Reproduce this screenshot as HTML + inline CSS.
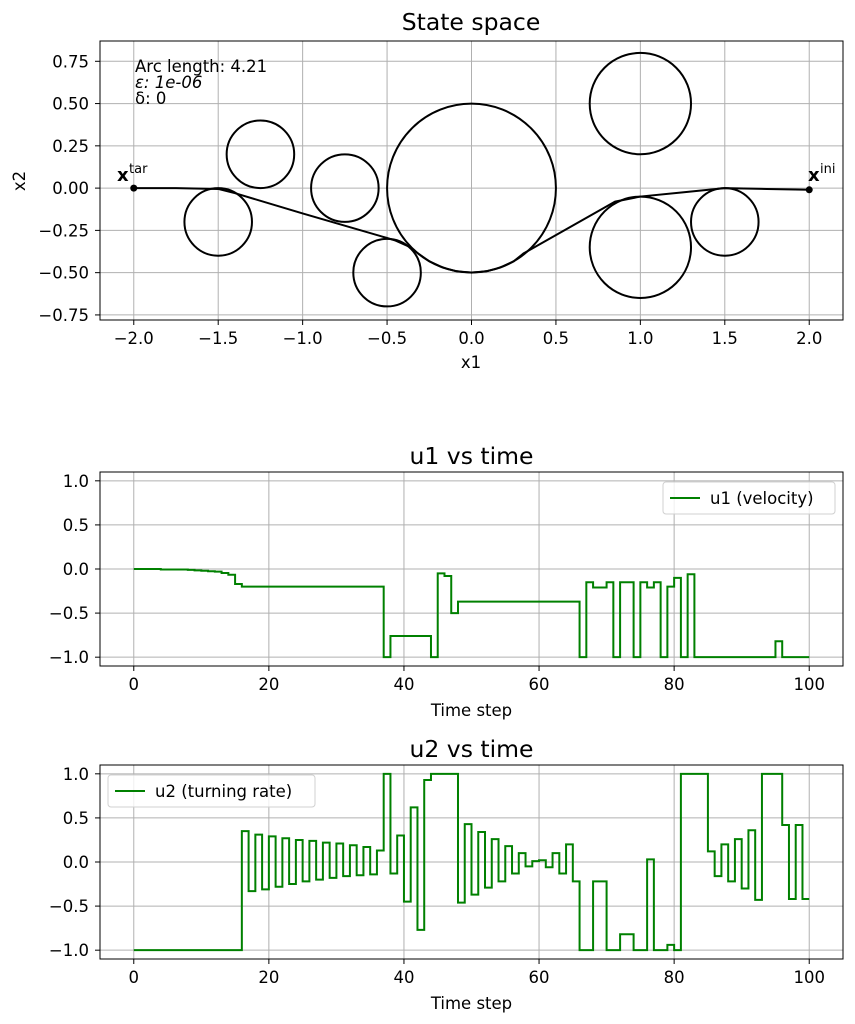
<!DOCTYPE html>
<html><head><meta charset="utf-8"><style>
html,body{margin:0;padding:0;background:#fff;}
svg{display:block;font-family:"DejaVu Sans","Liberation Sans",sans-serif;}
</style></head><body>
<svg id="fig" width="855" height="1024" viewBox="0 0 855 1024" xmlns="http://www.w3.org/2000/svg"></svg>
<script>
// ---- Data ----
const obsX = [-1.5, -1.25, -0.75, -0.5, 0, 1, 1, 1.5];
const obsY = [-0.2, 0.2, 0, -0.5, 0, 0.5, -0.35, -0.2];
const obsR = [0.2, 0.2, 0.2, 0.2, 0.5, 0.3, 0.3, 0.2];
const pathX = [2, 1.75, 1.5, 1.25, 1.0, 0.85, 0.31, 0.25, 0.17, 0.09, 0, -0.09, -0.17, -0.25, -0.32, -0.36, -0.45, -0.5, -1.0, -1.4, -1.5, -1.75, -2];
const pathY = [-0.01, -0.005, 0, -0.025, -0.05, -0.08, -0.385, -0.433, -0.47, -0.492, -0.5, -0.492, -0.47, -0.433, -0.384, -0.35, -0.31, -0.295, -0.15, -0.03, -0.005, 0, 0];
const timeSteps = Array.from({length: 101}, (_, i) => i);
const u1 = [0,0,0,0,-0.005,-0.005,-0.005,-0.005,-0.01,-0.015,-0.02,-0.025,-0.03,-0.045,-0.065,-0.17,
-0.2,-0.2,-0.2,-0.2,-0.2,-0.2,-0.2,-0.2,-0.2,-0.2,-0.2,-0.2,-0.2,-0.2,-0.2,-0.2,-0.2,-0.2,-0.2,-0.2,-0.2,
-1,-0.76,-0.76,-0.76,-0.76,-0.76,-0.76,-1,-0.05,-0.08,-0.5,
-0.37,-0.37,-0.37,-0.37,-0.37,-0.37,-0.37,-0.37,-0.37,-0.37,-0.37,-0.37,-0.37,-0.37,-0.37,-0.37,-0.37,-0.37,
-1,-0.15,-0.21,-0.21,-0.15,-1,-0.15,-0.15,-1,-0.15,-0.21,-0.15,-1,-0.2,-0.1,-1,-0.06,
-1,-1,-1,-1,-1,-1,-1,-1,-1,-1,-1,-1,-0.82,-1,-1,-1,-1,-1];
const u2 = [-1,-1,-1,-1,-1,-1,-1,-1,-1,-1,-1,-1,-1,-1,-1,-1,
0.35,-0.33,0.31,-0.31,0.29,-0.28,0.27,-0.25,0.25,-0.22,0.24,-0.2,0.22,-0.18,0.21,-0.16,0.19,-0.15,0.17,-0.14,0.13,
1.0,-0.13,0.3,-0.45,0.62,-0.77,0.93,1,1,1,1,
-0.46,0.43,-0.37,0.34,-0.29,0.26,-0.22,0.18,-0.13,0.1,-0.05,0.01,0.02,-0.06,0.1,-0.13,0.2,-0.22,
-1,-1,-0.22,-0.22,-1,-1,-0.82,-0.82,-1,-1,0.03,-1,-1,-0.94,-1,
1,1,1,1,0.12,-0.16,0.2,-0.22,0.26,-0.3,0.36,-0.43,1,1,1,0.42,-0.42,0.42,-0.42,-0.42];
const xTicksState = [-2.0,-1.5,-1.0,-0.5,0.0,0.5,1.0,1.5,2.0];
const yTicksState = [0.75,0.5,0.25,0,-0.25,-0.5,-0.75];
const xTicksTime = [0,20,40,60,80,100];
const yTicksU = [1.0,0.5,0.0,-0.5,-1.0];

const NS = "http://www.w3.org/2000/svg";
const svg = document.getElementById('fig');
const TICK_FS = 16.5;
function mk(tag, attrs, parent, text){
  const e = document.createElementNS(NS, tag);
  for (const k in attrs) e.setAttribute(k, attrs[k]);
  if (text !== undefined) e.textContent = text;
  (parent || svg).appendChild(e);
  return e;
}
function fmt(v, d){ return (v < 0 ? '\u2212' : '') + Math.abs(v).toFixed(d); }

function axes(box, xr, yr, xt, yt, xd, yd, name){
  const g = mk('g', {});
  
  
  const sx = v => box.l + (v - xr[0]) / (xr[1] - xr[0]) * (box.r - box.l);
  const sy = v => box.b - (v - yr[0]) / (yr[1] - yr[0]) * (box.b - box.t);
  xt.forEach(v => {
    const x = sx(v);
    const gl = mk('line', {x1:x, x2:x, y1:box.t, y2:box.b, stroke:'#b0b0b0', 'stroke-width':1}, g);
    
    
    mk('line', {x1:x, x2:x, y1:box.b, y2:box.b+5, stroke:'#000', 'stroke-width':1}, g);
    const t = mk('text', {x:x, y:box.b+24, 'text-anchor':'middle', 'font-size':TICK_FS, fill:'#000'}, g, fmt(v,xd));
    
    
  });
  yt.forEach(v => {
    const y = sy(v);
    const gl = mk('line', {x1:box.l, x2:box.r, y1:y, y2:y, stroke:'#b0b0b0', 'stroke-width':1}, g);
    
    
    mk('line', {x1:box.l-5, x2:box.l, y1:y, y2:y, stroke:'#000', 'stroke-width':1}, g);
    const t = mk('text', {x:box.l-11, y:y+6, 'text-anchor':'end', 'font-size':TICK_FS, fill:'#000'}, g, fmt(v, yd));
    
    
  });
  return {g, sx, sy};
}
function frame(box, g){
  const f = mk('rect', {x:box.l, y:box.t, width:box.r-box.l, height:box.b-box.t, fill:'none', stroke:'#000', 'stroke-width':1}, g);
  
  
}

// ---- State space ----
const b1 = {l:100, r:843, t:41, b:320};
const A = axes(b1, [-2.2,2.2], [-0.78,0.87], xTicksState, yTicksState, 1, 2, 'state-space-axes');
const pxPerUnit = (b1.r - b1.l) / 4.4;
obsX.forEach((cx, i) => {
  const c = mk('circle', {cx:A.sx(cx), cy:A.sy(obsY[i]), r:obsR[i]*pxPerUnit, fill:'none', stroke:'#000', 'stroke-width':2}, A.g);
  
  
});
const tp = mk('polyline', {points: pathX.map((x,i)=>A.sx(x)+','+A.sy(pathY[i])).join(' '), fill:'none', stroke:'#000', 'stroke-width':2, 'stroke-linejoin':'round'}, A.g);


const d1 = mk('circle', {cx:A.sx(-2), cy:A.sy(0), r:3.5, fill:'#000'}, A.g);


const d2 = mk('circle', {cx:A.sx(2), cy:A.sy(-0.01), r:3.5, fill:'#000'}, A.g);


frame(b1, A.g);
</script>
<script>
(function(){
const NS="http://www.w3.org/2000/svg", svg=document.getElementById('fig');
function t(x,y,s,txt,name,extra){const e=document.createElementNS(NS,'text');e.setAttribute('x',x);e.setAttribute('y',y);e.setAttribute('font-size',s);
 if(extra)for(const k in extra)e.setAttribute(k,extra[k]);e.textContent=txt;
 
 
 svg.appendChild(e);return e;}
t(471,30,23.5,'State space','state-space-title',{'text-anchor':'middle'});
t(471,368,16.5,'x1','x-axis-title',{'text-anchor':'middle'});
t(25,181,16.5,'x2','y-axis-title',{'text-anchor':'middle',transform:'rotate(-90 25 181)'});
t(135,72,16.5,'Arc length: 4.21','arc-length-annotation');
t(135,88,16.5,'\u03b5: 1e-06','epsilon-annotation',{'font-style':'italic'});
t(135,104,16.5,'\u03b4: 0','delta-annotation');
t(117,181,18,'x','target-label',{'font-weight':'bold'});
t(129,173,13,'tar','target-label-sup');
t(808,181,18,'x','initial-label',{'font-weight':'bold'});
t(820,173,13,'ini','initial-label-sup');
})();
</script>
<script>
// ---- Control plots ----
function stepPlot(box, yr, vals, title, legendText, legendBox, name){
  const P = axes(box, [-5,105], yr, xTicksTime, yTicksU, 0, 1, name);
  let d = '';
  timeSteps.forEach((tt, i) => {
    const x = P.sx(tt), y = P.sy(vals[i]);
    if (i === 0) d += 'M' + x + ',' + y;
    else d += 'V' + y;
    if (i < timeSteps.length - 1) d += 'H' + P.sx(timeSteps[i+1]);
  });
  const line = mk('path', {d:d, fill:'none', stroke:'#008000', 'stroke-width':2, 'stroke-linejoin':'miter'}, P.g);
  
  
  frame(box, P.g);
  const tt = mk('text', {x:(box.l+box.r)/2, y:box.t-8, 'text-anchor':'middle', 'font-size':23.5}, P.g, title);
  
  
  const xl = mk('text', {x:(box.l+box.r)/2, y:box.b+50, 'text-anchor':'middle', 'font-size':16.5}, P.g, 'Time step');
  
  
  const lg = mk('g', {}, P.g);
  
  
  mk('rect', {x:legendBox.x, y:legendBox.y, width:legendBox.w, height:32, rx:3, fill:'#fff', 'fill-opacity':0.8, stroke:'#d0d0d0'}, lg);
  mk('line', {x1:legendBox.x+7, x2:legendBox.x+37, y1:legendBox.y+16, y2:legendBox.y+16, stroke:'#008000', 'stroke-width':2}, lg);
  mk('text', {x:legendBox.x+47, y:legendBox.y+22, 'font-size':16.5}, lg, legendText);
}
stepPlot({l:100, r:843, t:472, b:666}, [-1.1,1.1], u1, 'u1 vs time', 'u1 (velocity)', {x:663, y:482, w:172}, 'u1-plot');
stepPlot({l:100, r:843, t:765, b:959}, [-1.1,1.1], u2, 'u2 vs time', 'u2 (turning rate)', {x:108, y:775, w:207}, 'u2-plot');
</script>
</body></html>
